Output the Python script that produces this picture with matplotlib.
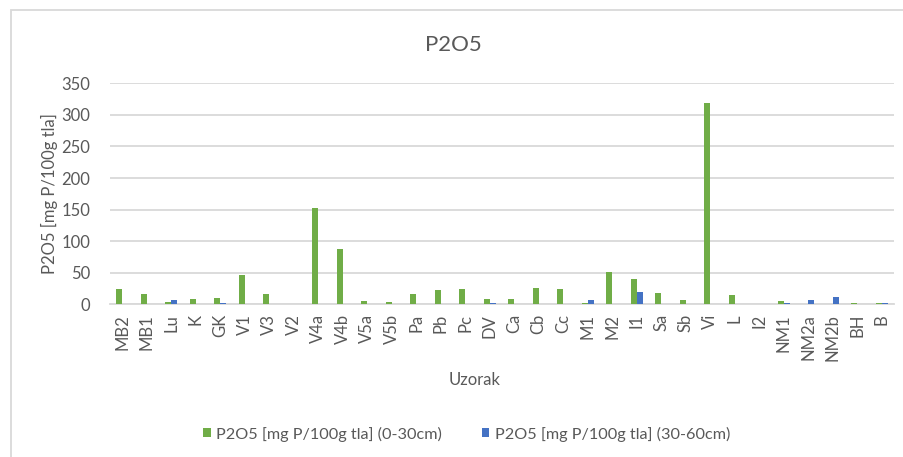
import matplotlib.pyplot as plt
from matplotlib.patches import Rectangle
import numpy as np

# P2O5 values per sample
samples = ['MB2', 'MB1', 'Lu', 'K', 'GK', 'V1', 'V3', 'V2', 'V4a', 'V4b', 'V5a', 'V5b',
           'Pa', 'Pb', 'Pc', 'DV', 'Ca', 'Cb', 'Cc', 'M1', 'M2', 'I1', 'Sa', 'Sb',
           'Vi', 'L', 'I2', 'NM1', 'NM2a', 'NM2b', 'BH', 'B']
top_0_30 = [24, 16, 3.5, 8, 10, 46, 17, 0, 152, 87, 6, 3.5,
            16, 22, 25, 8, 8, 26, 24, 2, 51, 40, 17.5, 7,
            319, 14, 0, 5, 0, 0, 2, 2]
sub_30_60 = [0, 0, 7, 0, 2, 0, 0, 0, 0, 0, 0, 0,
             0, 0, 0, 2, 0, 0, 0, 7, 0, 19, 0, 0,
             0, 0, 0, 2, 7, 11.5, 0, 2]
yticks = [0, 50, 100, 150, 200, 250, 300, 350]

green = '#70AD47'
blue = '#4472C4'
txt = '#595959'
grid = '#D9D9D9'

plt.rcParams['font.family'] = ['Lato', 'DejaVu Sans']

fig = plt.figure(figsize=(9.04, 4.57), dpi=100)
ax = fig.add_axes([110 / 904, 1 - 304.3 / 457, (894 - 110) / 904, (304.3 - 83.3) / 457])

x = np.arange(len(samples))
w = 0.24
ax.bar(x - w / 2, top_0_30, w, color=green, label='P2O5 [mg P/100g tla] (0-30cm)', zorder=3)
ax.bar(x + w / 2, sub_30_60, w, color=blue, label='P2O5 [mg P/100g tla] (30-60cm)', zorder=3)

ax.set_xlim(-0.5, len(samples) - 0.5)
ax.set_ylim(0, 350)
ax.set_yticks(yticks)
ax.set_xticks(x)
ax.set_xticklabels(samples, rotation=90)
ax.tick_params(axis='y', length=0, pad=14, labelsize=12, labelcolor=txt)
ax.tick_params(axis='x', length=0, pad=7, labelsize=12, labelcolor=txt)
ax.grid(axis='y', color=grid, linewidth=1.3, zorder=0)
for s in ['top', 'right', 'left']:
    ax.spines[s].set_visible(False)
ax.spines['bottom'].set_color(grid)
ax.spines['bottom'].set_linewidth(1.3)

fig.text(453 / 904, 1 - 45 / 457, 'P2O5', ha='center', va='center', fontsize=16, color=txt)
fig.text(49 / 904, 1 - 194 / 457, 'P2O5 [mg P/100g tla]', ha='center', va='center',
         rotation=90, fontsize=12, color=txt)
fig.text(475 / 904, 1 - 380 / 457, 'Uzorak', ha='center', va='center', fontsize=12, color=txt)

fig.legend(loc='center', bbox_to_anchor=(467 / 904, 1 - 434 / 457), ncol=2, frameon=False,
           fontsize=11.7, labelcolor=txt, handlelength=0.45, handleheight=0.45,
           handletextpad=0.35, columnspacing=2.45)

# chart border (cut off at right and bottom)
fig.patches.append(Rectangle((10.5 / 904, -0.1), 1.2, 1 - 9.5 / 457 + 0.1, transform=fig.transFigure,
                             fill=False, edgecolor=grid, linewidth=1.3))

fig.savefig('out.png', dpi=100)
